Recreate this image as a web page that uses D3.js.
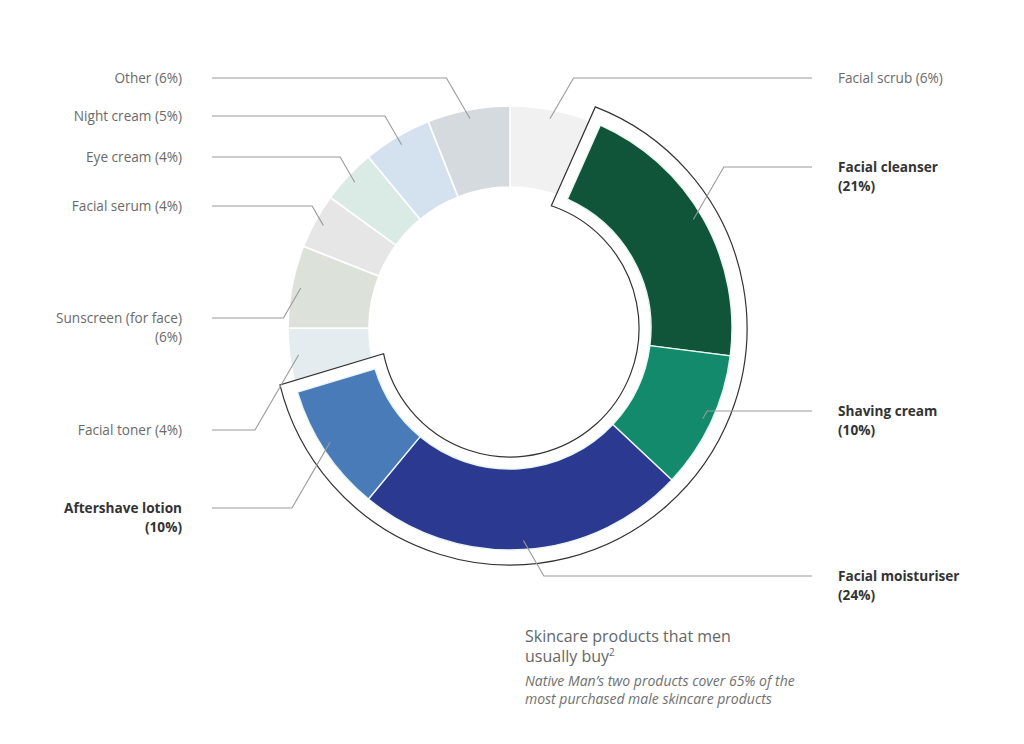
<!DOCTYPE html>
<html><head><meta charset="utf-8">
<script src="https://cdn.jsdelivr.net/npm/d3@7"></script>
<style>
html,body{margin:0;padding:0;background:#fff;}
svg{display:block;font-family:"Open Sans",sans-serif;}
</style></head>
<body>
<svg id="chart" width="1024" height="744"></svg>
<script>
// ---- data ----
const categories = ["Facial scrub","Facial cleanser","Shaving cream","Facial moisturiser","Aftershave lotion","Facial toner","Sunscreen (for face)","Facial serum","Eye cream","Night cream","Other"];
const values = [6,21,10,24,10,4,6,4,4,5,6];
const highlighted = [false,true,true,true,true,false,false,false,false,false,false];
const titleLines = ["Skincare products that men","usually buy"];
const subtitleLines = ["Native Man\u2019s two products cover 65% of the","most purchased male skincare products"];

// ---- styles / layout ----
const colors = ["#f1f1f1","#10553a","#128a6b","#2b3a90","#4a7bb9","#e5ecf0","#dce2da","#e6e6e6","#d9ebe4","#d4e1ee","#d5dadf"];
const labelSide = ["right","right","right","right","left","left","left","left","left","left","left"];
const labelY = [78,167,411,576,508,430,318,206,157,116,78];
const labelTwoLine = [false,true,true,true,true,false,true,false,false,false,false];

const svg = d3.select("#chart");
const cx = 510, cy = 328;
const rIn = 141, rOut = 222, rLine = 213;
const oIn = 129, oOut = 237, oGap = 12;
const inset = 2.4 * Math.PI / 180;

const pie = d3.pie().sort(null).value(d => d)(values);
const arc = d3.arc().innerRadius(rIn).outerRadius(rOut);
const pt = (r, a) => [cx + r * Math.sin(a), cy - r * Math.cos(a)];

const g = svg.append("g").attr("transform", `translate(${cx},${cy})`);

// base (non highlighted) segments
g.selectAll("path.base").data(pie.filter((d,i) => !highlighted[i])).join("path")
  .attr("class","base")
  .attr("d", arc)
  .attr("fill", d => colors[d.index])
  .attr("stroke","#fff").attr("stroke-width",1.6);

// outline around highlighted group
const hl = pie.filter((d,i) => highlighted[i]);
const a0 = d3.min(hl, d => d.startAngle) + inset;
const a1 = d3.max(hl, d => d.endAngle) - inset;
const p = d3.path();
const sI = a0 - oGap/oIn, sO = a0 - oGap/oOut, eO = a1 + oGap/oOut, eI = a1 + oGap/oIn;
p.moveTo(...pt(oIn, sI));
p.lineTo(...pt(oOut, sO));
p.arc(cx, cy, oOut, sO - Math.PI/2, eO - Math.PI/2, false);
p.lineTo(...pt(oIn, eI));
p.arc(cx, cy, oIn, eI - Math.PI/2, sI - Math.PI/2, true);
p.closePath();
svg.append("path").attr("d", p.toString())
  .attr("fill","#fff").attr("stroke","#333").attr("stroke-width",1.2);

// highlighted segments (drawn above the outline)
const gh = svg.append("g").attr("transform", `translate(${cx},${cy})`);
gh.selectAll("path.hl").data(hl).join("path")
  .attr("class","hl")
  .attr("d", d => arc({startAngle: Math.max(d.startAngle, a0), endAngle: Math.min(d.endAngle, a1)}))
  .attr("fill", d => colors[d.index])
  .attr("stroke","#e9f6f1").attr("stroke-width",1.4);

// leader lines
const leftX = 212, rightX = 812;
const lines = svg.append("g").attr("fill","none").attr("stroke","#9a9a9a").attr("stroke-width",1.1);
pie.forEach((d,i) => {
  const mid = (d.startAngle + d.endAngle)/2;
  const [ex, ey] = pt(rLine, mid);
  const ly = labelY[i];
  const dy = Math.abs(ly - ey);
  const left = labelSide[i] === "left";
  const bx = left ? ex - 0.58*dy : ex + 0.58*dy;
  lines.append("path").attr("d", d3.line()([[left ? leftX : rightX, ly],[bx, ly],[ex, ey]]));
});

// labels
const lab = svg.append("g").attr("font-size", 13.6);
pie.forEach((d,i) => {
  const left = labelSide[i] === "left";
  const t = lab.append("text")
    .attr("x", left ? 182 : 838)
    .attr("y", labelY[i] + 4.5)
    .attr("text-anchor", left ? "end" : "start")
    .attr("fill", highlighted[i] ? "#333" : "#6a6a6a")
    .attr("font-weight", highlighted[i] ? 700 : 400);
  const pct = `(${values[i]}%)`;
  if (labelTwoLine[i]) {
    t.append("tspan").attr("x", left ? 182 : 838).text(categories[i]);
    t.append("tspan").attr("x", left ? 182 : 838).attr("dy", 19).text(pct);
  } else {
    t.text(`${categories[i]} ${pct}`);
  }
});

// title
const title = svg.append("text").attr("x",525).attr("y",642).attr("font-size",16).attr("fill","#666");
title.append("tspan").attr("x",525).text(titleLines[0]);
title.append("tspan").attr("x",525).attr("dy",20).text(titleLines[1]);
title.append("tspan").attr("font-size",10).attr("dy",-6).text("2");
const sub = svg.append("text").attr("x",525).attr("y",686).attr("font-size",14).attr("font-style","italic").attr("fill","#707070");
sub.append("tspan").attr("x",525).text(subtitleLines[0]);
sub.append("tspan").attr("x",525).attr("dy",18).text(subtitleLines[1]);
</script>
</body></html>
